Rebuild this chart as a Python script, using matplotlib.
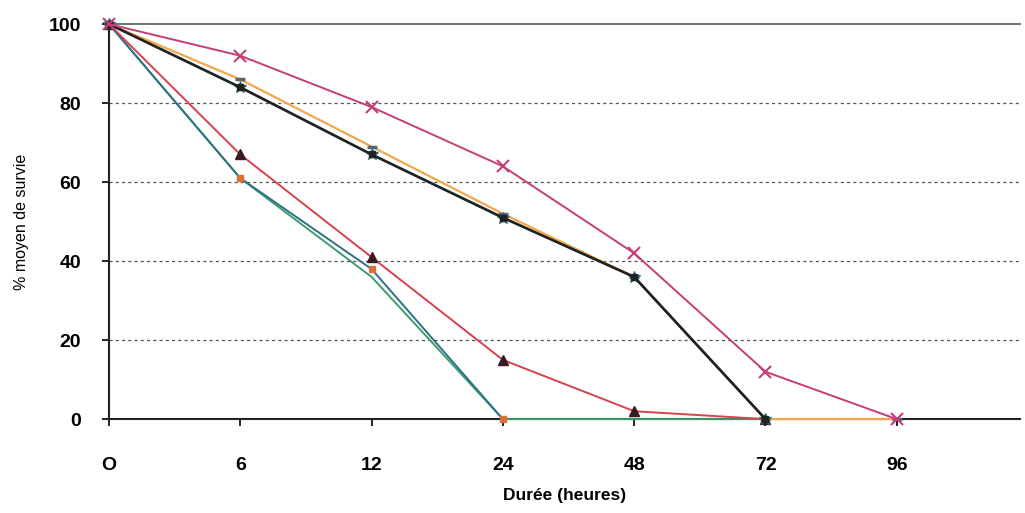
import numpy as np
import matplotlib
matplotlib.use("Agg")
import matplotlib.pyplot as plt

plt.rcParams['font.family'] = ['Liberation Sans', 'DejaVu Sans']

# durées (catégories) et % moyen de survie
hours = ["O", "6", "12", "24", "48", "72", "96"]

s_magenta = [100, 92, 79, 64, 42, 12, 0]
s_orange = [100, 86, 69, 52, 36, 0, 0]
s_dark = [100, 84, 67, 51, 36, 0]
s_teal = [100, 84, 67, 51, 36, 0]
s_red = [100, 67, 41, 15, 2, 0]
s_green = [100, 61, 36, 0, 0, 0]
s_blue = [100, 61, 38, 0]

fig = plt.figure(figsize=(10.25, 5.13), dpi=100)
ax = fig.add_axes([0.1063, 0.183, 0.889, 0.770])

x = np.arange(len(hours))

# gridlines
for v in [20, 40, 60, 80]:
    ax.axhline(v, color="#555555", lw=0.9, ls=(0, (2.5, 2.5)), zorder=1)
ax.axhline(100, color="#666666", lw=1.3, zorder=1)

ax.plot(x[:len(s_green)], s_green, color="#3a9e6c", lw=1.4, zorder=3)
ax.plot(x[:len(s_blue)], s_blue, color="#2f6f88", lw=1.4, zorder=3,
        marker="s", ms=5, mfc="#d8703c", mec="#d8703c")
ax.plot(x[:len(s_red)], s_red, color="#d8404c", lw=1.4, zorder=4,
        marker="^", ms=7, mfc="#3a1a20", mec="#3a1a20")
ax.plot(x[:len(s_orange)], s_orange, color="#f2a84a", lw=1.6, zorder=3,
        marker="_", ms=7, mew=2.5, mec="#556677")
ax.plot(x[:len(s_teal)], s_teal, color="#2a6e78", lw=1.4, zorder=4,
        marker="*", ms=9, mfc="#2a6e78", mec="#2a6e78")
ax.plot(x[:len(s_dark)], s_dark, color="#222222", lw=1.9, zorder=5,
        marker="s", ms=5, mfc="#222222", mec="#222222")
ax.plot(x[:len(s_magenta)], s_magenta, color="#c83c78", lw=1.4, zorder=5,
        marker="x", ms=8, mew=1.5)

ax.set_xlim(0, 6.94)
ax.set_ylim(0, 100)
ax.set_xticks(x)
ax.set_xticklabels(hours, fontsize=14, fontweight="bold")
ax.set_yticks([0, 20, 40, 60, 80, 100])
ax.set_yticklabels(["0", "20", "40", "60", "80", "100"], fontsize=14, fontweight="bold")
ax.tick_params(axis="x", length=5, width=1.2, pad=22)
ax.tick_params(axis="y", length=5, width=1.2, pad=15)

for side in ["top", "right"]:
    ax.spines[side].set_visible(False)
ax.spines["left"].set_linewidth(1.5)
ax.spines["bottom"].set_linewidth(1.5)
ax.spines["left"].set_color("#222222")
ax.spines["bottom"].set_color("#222222")

ax.set_ylabel("% moyen de survie", fontsize=11.5, labelpad=14)
ax.set_xlabel("Durée (heures)", fontsize=12.5, fontweight="bold", labelpad=10)

for line in ax.get_lines():
    line.set_clip_on(False)

fig.savefig("out.png", dpi=100)
